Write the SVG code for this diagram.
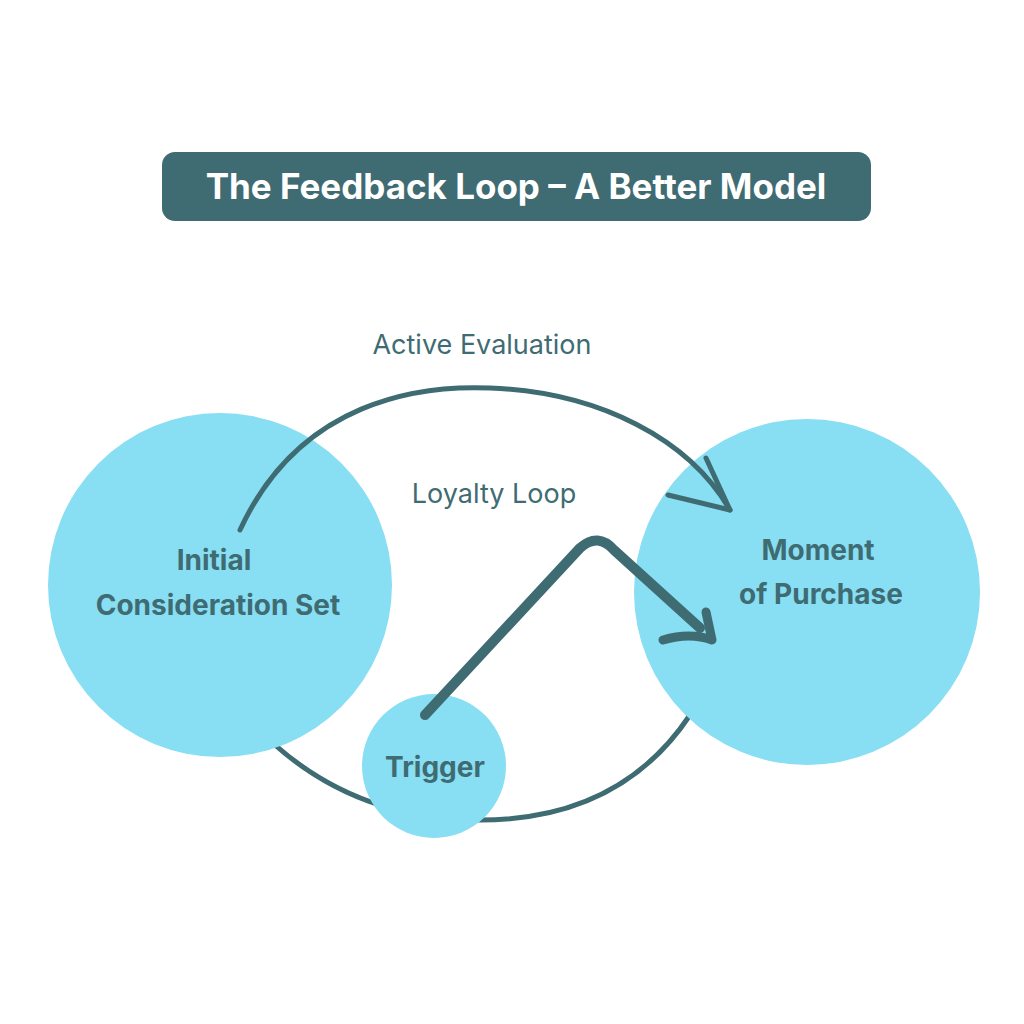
<svg xmlns="http://www.w3.org/2000/svg" width="1024" height="1024" viewBox="0 0 1024 1024">
<style>
.node{fill:#88def2}
.lbl{font-family:Inter,"Open Sans",sans-serif;font-weight:700;fill:#3f6b73;font-size:28px;text-anchor:middle}
.cap{font-family:Inter,"Open Sans",sans-serif;font-weight:400;fill:#3f6b73;font-size:27px;text-anchor:middle}
.ln{fill:none;stroke:#3f6b73;stroke-linecap:round;stroke-linejoin:round}
</style>
<rect width="1024" height="1024" fill="#fff"/>
<g id="title">
<rect x="162" y="152" width="709" height="69" rx="13" fill="#3f6b73"/>
<text x="516" y="199" font-family="Inter,'Open Sans',sans-serif" font-weight="700" font-size="35" fill="#fff" text-anchor="middle">The Feedback Loop – A Better Model</text>
</g>
<g id="connectors">
<path class="ln" stroke-width="5" d="M275,745 Q360,820 480,820 Q620,820 690,715"/>
<g id="initial"><circle class="node" cx="220" cy="585" r="172"/></g>
<g id="moment"><circle class="node" cx="807" cy="592" r="173"/></g>
<path class="ln" stroke-width="5" d="M240,530 C300,400 420,385 490,388 C600,392 690,440 730,510"/>
<path class="ln" stroke-width="5" d="M706,458 L730,510 L668,495"/>
</g>
<g id="trigger"><circle class="node" cx="434" cy="766" r="72"/></g>
<g id="loyalty">
<path class="ln" stroke-width="10" d="M425,715 L580,548 Q598,532 614,550 L700,628"/>
<path class="ln" stroke-width="9" d="M663,640 Q690,632 712,640 L706,612"/>
</g>
<text class="lbl" x="214" y="570">Initial</text>
<text class="lbl" x="218" y="615">Consideration Set</text>
<text class="lbl" x="818" y="560">Moment</text>
<text class="lbl" x="821" y="604">of Purchase</text>
<text class="lbl" x="435" y="777">Trigger</text>
<text class="cap" x="482" y="354">Active Evaluation</text>
<text class="cap" x="494" y="503">Loyalty Loop</text>
</svg>
